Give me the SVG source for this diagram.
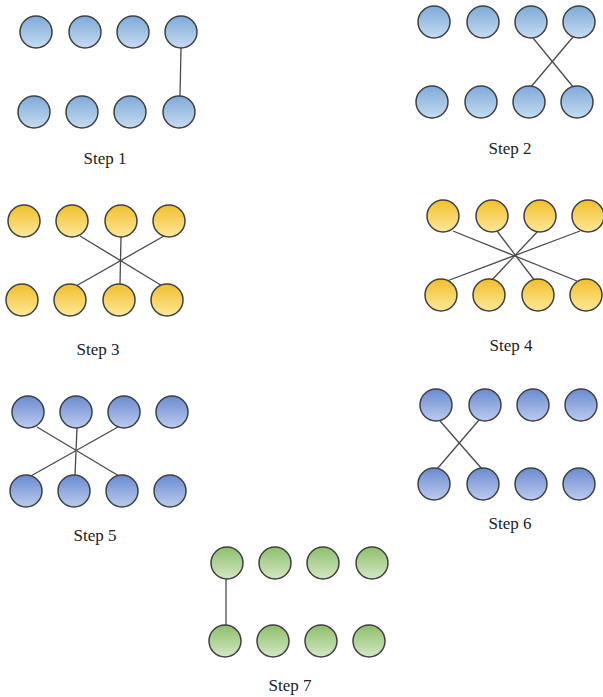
<svg xmlns="http://www.w3.org/2000/svg" width="603" height="697" viewBox="0 0 603 697">
  <defs>
    <linearGradient id="gBlue" x1="0" y1="0" x2="0" y2="1">
      <stop offset="0" stop-color="#7faad9"/>
      <stop offset="1" stop-color="#c6dcf1"/>
    </linearGradient>
    <linearGradient id="gGold" x1="0" y1="0" x2="0" y2="1">
      <stop offset="0" stop-color="#f1bf2c"/>
      <stop offset="1" stop-color="#fde89a"/>
    </linearGradient>
    <linearGradient id="gIndigo" x1="0" y1="0" x2="0" y2="1">
      <stop offset="0" stop-color="#6a8bd0"/>
      <stop offset="1" stop-color="#bccbee"/>
    </linearGradient>
    <linearGradient id="gGreen" x1="0" y1="0" x2="0" y2="1">
      <stop offset="0" stop-color="#8dbf6c"/>
      <stop offset="1" stop-color="#d3e8c3"/>
    </linearGradient>
  </defs>
  <style>
    circle { stroke: #3f3f3f; stroke-width: 1.5; }
    .blue circle { fill: url(#gBlue); }
    .gold circle { fill: url(#gGold); }
    .indigo circle { fill: url(#gIndigo); }
    .green circle { fill: url(#gGreen); }
    #connectors line { stroke: #4a4a4a; stroke-width: 1.3; }
    text { font-family: "Liberation Serif", "Times New Roman", serif; font-size: 17px; fill: #222; text-anchor: middle; }
  </style>

  <!-- links between the two rows of each step -->
  <g id="connectors">
    <line x1="181" y1="48" x2="180" y2="96"/>
    <line x1="533" y1="38" x2="574" y2="88"/>
    <line x1="573" y1="37" x2="530" y2="88"/>
    <line x1="80" y1="236" x2="164" y2="287"/>
    <line x1="121" y1="237" x2="120" y2="284"/>
    <line x1="164" y1="236" x2="76" y2="286"/>
    <line x1="453" y1="231" x2="577" y2="281"/>
    <line x1="497" y1="231" x2="535" y2="281"/>
    <line x1="538" y1="231" x2="491" y2="281"/>
    <line x1="580" y1="231" x2="447" y2="281"/>
    <line x1="37" y1="427" x2="119" y2="476"/>
    <line x1="77" y1="428" x2="75" y2="475"/>
    <line x1="118" y1="427" x2="29" y2="477"/>
    <line x1="440" y1="421" x2="482" y2="469"/>
    <line x1="479" y1="420" x2="437" y2="469"/>
    <line x1="226" y1="579" x2="226" y2="625"/>
  </g>

  <g id="step1" class="blue">
    <circle cx="36" cy="32" r="16"/><circle cx="85" cy="32" r="16"/><circle cx="133" cy="32" r="16"/><circle cx="181" cy="32" r="16"/>
    <circle cx="34" cy="112" r="16"/><circle cx="82" cy="112" r="16"/><circle cx="130" cy="112" r="16"/><circle cx="179" cy="112" r="16"/>
    <text x="105" y="164">Step 1</text>
  </g>

  <g id="step2" class="blue">
    <circle cx="434" cy="22" r="16"/><circle cx="483" cy="22" r="16"/><circle cx="531" cy="22" r="16"/><circle cx="579" cy="22" r="16"/>
    <circle cx="432" cy="102" r="16"/><circle cx="481" cy="102" r="16"/><circle cx="529" cy="102" r="16"/><circle cx="577" cy="102" r="16"/>
    <text x="510" y="154">Step 2</text>
  </g>

  <g id="step3" class="gold">
    <circle cx="24" cy="221" r="16"/><circle cx="72" cy="221" r="16"/><circle cx="121" cy="221" r="16"/><circle cx="169" cy="221" r="16"/>
    <circle cx="22" cy="300" r="16"/><circle cx="70" cy="300" r="16"/><circle cx="119" cy="300" r="16"/><circle cx="167" cy="300" r="16"/>
    <text x="98" y="355">Step 3</text>
  </g>

  <g id="step4" class="gold">
    <circle cx="443" cy="216" r="16"/><circle cx="492" cy="216" r="16"/><circle cx="540" cy="216" r="16"/><circle cx="588" cy="216" r="16"/>
    <circle cx="441" cy="295" r="16"/><circle cx="489" cy="295" r="16"/><circle cx="538" cy="295" r="16"/><circle cx="586" cy="295" r="16"/>
    <text x="511" y="351">Step 4</text>
  </g>

  <g id="step5" class="indigo">
    <circle cx="28" cy="412" r="16"/><circle cx="76" cy="412" r="16"/><circle cx="124" cy="412" r="16"/><circle cx="172" cy="412" r="16"/>
    <circle cx="26" cy="491" r="16"/><circle cx="74" cy="491" r="16"/><circle cx="122" cy="491" r="16"/><circle cx="170" cy="491" r="16"/>
    <text x="95" y="541">Step 5</text>
  </g>

  <g id="step6" class="indigo">
    <circle cx="436" cy="405" r="16"/><circle cx="485" cy="405" r="16"/><circle cx="533" cy="405" r="16"/><circle cx="581" cy="405" r="16"/>
    <circle cx="434" cy="484" r="16"/><circle cx="483" cy="484" r="16"/><circle cx="531" cy="484" r="16"/><circle cx="579" cy="484" r="16"/>
    <text x="510" y="529">Step 6</text>
  </g>

  <g id="step7" class="green">
    <circle cx="227" cy="563" r="16"/><circle cx="275" cy="563" r="16"/><circle cx="323" cy="563" r="16"/><circle cx="372" cy="563" r="16"/>
    <circle cx="225" cy="641" r="16"/><circle cx="273" cy="641" r="16"/><circle cx="321" cy="641" r="16"/><circle cx="369" cy="641" r="16"/>
    <text x="290" y="691">Step 7</text>
  </g>
</svg>
